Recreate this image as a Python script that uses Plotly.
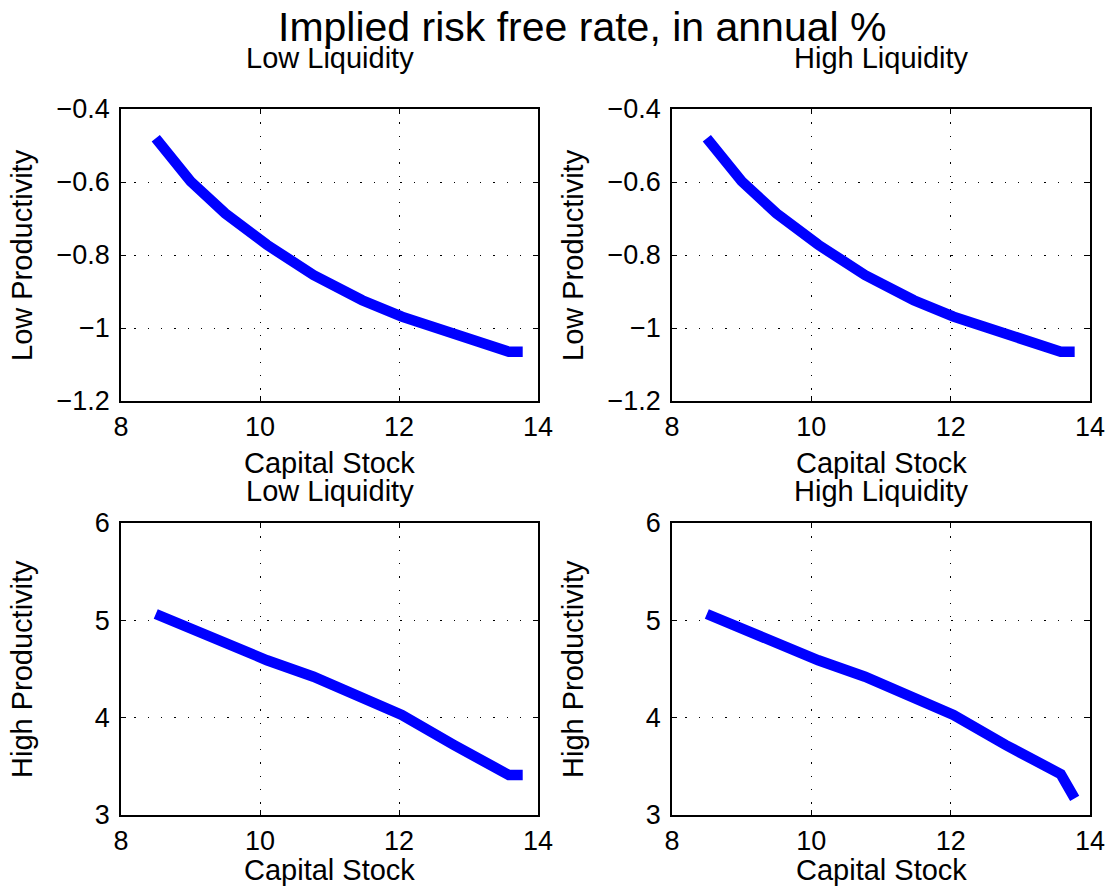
import plotly.graph_objects as go

# Capital stock grid and implied risk free rates (annual %)
capital = [8.5, 9.0, 9.5, 10.1, 10.77, 11.47, 12.04, 12.79, 13.58, 13.78]
low_prod_low_liq = [-0.48, -0.598, -0.686, -0.772, -0.855, -0.924, -0.969, -1.019, -1.065, -1.065]
low_prod_high_liq = [-0.48, -0.598, -0.686, -0.772, -0.855, -0.924, -0.969, -1.019, -1.065, -1.065]
high_prod_low_liq = [5.065, 4.918, 4.746, 4.59, 4.421, 4.216, 4.027, 3.719, 3.411, 3.411]
high_prod_high_liq = [5.065, 4.918, 4.746, 4.59, 4.421, 4.216, 4.027, 3.719, 3.42, 3.17]

x_ticks = [8, 10, 12, 14]
low_ticks = [-1.2, -1.0, -0.8, -0.6, -0.4]
high_ticks = [3, 4, 5, 6]

W, H = 1111, 896
FONT = "Liberation Sans, Arial, Helvetica, sans-serif"

# panel boxes in pixels: (left, right, top, bottom)
boxes = {
    1: (121, 538, 109, 401),
    2: (672, 1090, 109, 401),
    3: (121, 538, 523, 815),
    4: (672, 1090, 523, 815),
}

fig = go.Figure()
series = [low_prod_low_liq, low_prod_high_liq, high_prod_low_liq, high_prod_high_liq]
for i, ys in enumerate(series, start=1):
    sfx = "" if i == 1 else str(i)
    fig.add_trace(go.Scatter(
        x=capital, y=ys, mode="lines",
        line=dict(color="#0000ff", width=10.5),
        xaxis="x" + sfx, yaxis="y" + sfx, showlegend=False, hoverinfo="skip",
    ))

axis_common = dict(
    showline=True, linecolor="black", linewidth=1.5, mirror="allticks",
    ticks="inside", ticklen=5, tickwidth=1, tickcolor="black",
    showgrid=True, gridcolor="black", gridwidth=1, griddash="1.3px,12px",
    zeroline=False, automargin=False,
    tickfont=dict(family=FONT, size=27, color="black"),
)

layout = dict(
    width=W, height=H, margin=dict(l=0, r=0, t=0, b=0, autoexpand=False),
    paper_bgcolor="white", plot_bgcolor="white",
    font=dict(family=FONT, color="black"),
)
for i, (l, r, t, b) in boxes.items():
    sfx = "" if i == 1 else str(i)
    top_row = i <= 2
    layout["xaxis" + sfx] = dict(
        axis_common, domain=[l / W, r / W], range=[8, 14], tickvals=x_ticks,
        anchor="y" + sfx, ticklabelstandoff=1,
    )
    layout["yaxis" + sfx] = dict(
        axis_common, domain=[1 - b / H, 1 - t / H],
        range=[-1.2, -0.4] if top_row else [3, 6],
        tickvals=low_ticks if top_row else high_ticks,
        anchor="x" + sfx, ticklabelstandoff=4,
    )
fig.update_layout(**layout)


def note(text, xpx, ypx, size, angle=0):
    fig.add_annotation(
        text=text, x=xpx / W, y=1 - ypx / H, xref="paper", yref="paper",
        xanchor="center", yanchor="middle", showarrow=False, textangle=angle,
        font=dict(family=FONT, size=size, color="black"),
    )


note("Implied risk free rate, in annual %", 582, 27, 41)
for i, (l, r, t, b) in boxes.items():
    cx = (l + r) / 2
    cy = (t + b) / 2
    top_row = i <= 2
    note("Low Liquidity" if i in (1, 3) else "High Liquidity", cx, t - 51 if top_row else t - 32, 29)
    note("Capital Stock", cx, b + 62 if top_row else b + 55, 29)
    note("Low Productivity" if top_row else "High Productivity", l - 99, cy, 29, angle=-90)

fig.write_html("out.html")
